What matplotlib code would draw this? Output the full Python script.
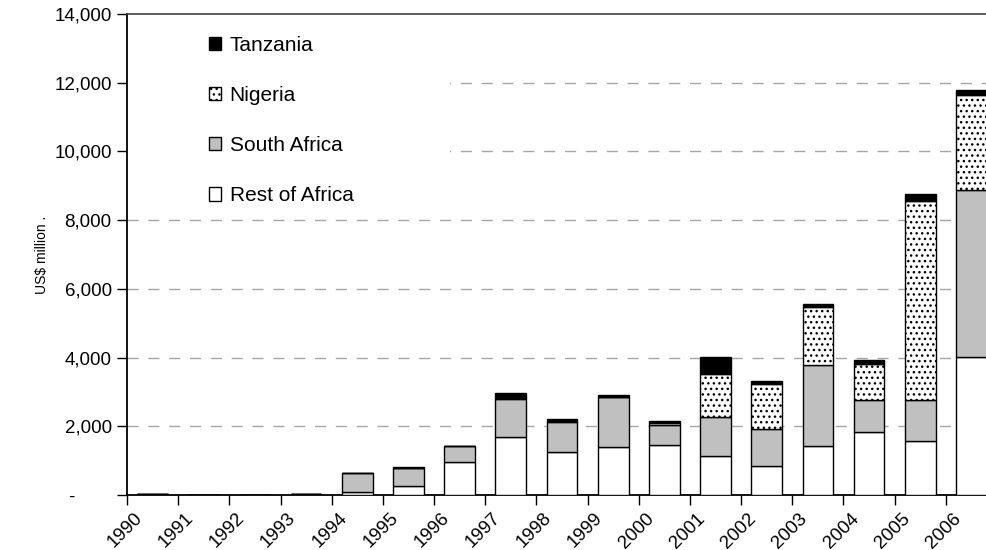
import numpy as np
import matplotlib
import matplotlib.pyplot as plt
import matplotlib.transforms as mtransforms
from matplotlib.patches import Rectangle, Patch

matplotlib.use("Agg")

plt.rcParams["font.family"] = ["Liberation Sans", "DejaVu Sans"]
plt.rcParams["hatch.linewidth"] = 1.0

years = [str(y) for y in range(1990, 2007)]
rest_of_africa = [25, 0, 0, 20, 100, 250, 960, 1700, 1260, 1400, 1445, 1130, 850, 1420, 1825, 1580, 4010]
south_africa = [0, 0, 0, 0, 550, 550, 455, 1090, 870, 1450, 580, 1130, 1080, 2365, 940, 1195, 4860]
nigeria = [0, 0, 0, 0, 0, 0, 0, 20, 30, 0, 70, 1260, 1290, 1700, 1060, 5790, 2775]
tanzania = [15, 0, 0, 10, 0, 25, 20, 170, 50, 75, 70, 490, 105, 85, 105, 185, 130]

ytick_vals = [0, 2000, 4000, 6000, 8000, 10000, 12000, 14000]
ytick_labels = ["-       ", "2,000", "4,000", "6,000", "8,000", "10,000", "12,000", "14,000"]

fig = plt.figure(figsize=(9.87, 5.5), dpi=100)
ax = fig.add_axes([127 / 987, 55 / 550, 870 / 987, 481 / 550])

x = np.arange(len(years))
width = 0.6
bottom = np.zeros(len(years))

series = [
    (rest_of_africa, "white", None, "Rest of Africa"),
    (south_africa, "#c0c0c0", None, "South Africa"),
    (nigeria, "white", "...", "Nigeria"),
    (tanzania, "black", None, "Tanzania"),
]
for vals, color, hatch, label in series:
    vals = np.array(vals, dtype=float)
    ax.bar(x, vals, width, bottom=bottom, color=color, edgecolor="black",
           linewidth=1.0, hatch=hatch, zorder=3)
    bottom += vals

ax.set_xlim(-0.5, len(years) - 0.5)
ax.set_ylim(0, 14000)

# gridlines
for v in ytick_vals[1:-1]:
    ax.axhline(v, color="#a6a6a6", linewidth=1.0, linestyle=(0, (8, 7)), zorder=1)

# white area behind the legend
ax.add_patch(Rectangle((0, 0.6), 0.371, 0.4, transform=ax.transAxes,
                       facecolor="white", edgecolor="none", zorder=2))

ax.set_yticks(ytick_vals)
ax.set_yticklabels(ytick_labels, fontsize=13.5)
ax.tick_params(axis="y", direction="out", length=7, width=1, pad=4)

ax.set_xticks(x - 0.5, minor=True)
ax.set_xticks(x)
ax.set_xticklabels(years, rotation=45, ha="right", va="center",
                   rotation_mode="anchor", fontsize=13.5)
ax.tick_params(axis="x", which="major", length=0, pad=15)
ax.tick_params(axis="x", which="minor", direction="out", length=7, width=1)
offset = mtransforms.ScaledTranslation(-0.13, 0, fig.dpi_scale_trans)
for lbl in ax.get_xticklabels():
    lbl.set_transform(lbl.get_transform() + offset)

ax.spines["left"].set_linewidth(1.3)
ax.spines["bottom"].set_linewidth(1.3)
ax.spines["top"].set_color("#404040")
ax.spines["top"].set_linewidth(1.2)
ax.spines["right"].set_visible(False)

ax.set_ylabel("US$ million .", fontsize=10)
ax.yaxis.set_label_coords(-0.09, 0.5)

handles = [
    Patch(facecolor="black", edgecolor="black", label="Tanzania"),
    Patch(facecolor="white", edgecolor="black", hatch="...", label="Nigeria"),
    Patch(facecolor="#c0c0c0", edgecolor="black", label="South Africa"),
    Patch(facecolor="white", edgecolor="black", label="Rest of Africa"),
]
ax.legend(handles=handles, loc="upper left", bbox_to_anchor=(0.094, 0.955),
          frameon=False, fontsize=15, handlelength=0.6, handleheight=0.6,
          handletextpad=0.4, labelspacing=1.5, borderpad=0, borderaxespad=0)

fig.savefig("out.png", dpi=100)
